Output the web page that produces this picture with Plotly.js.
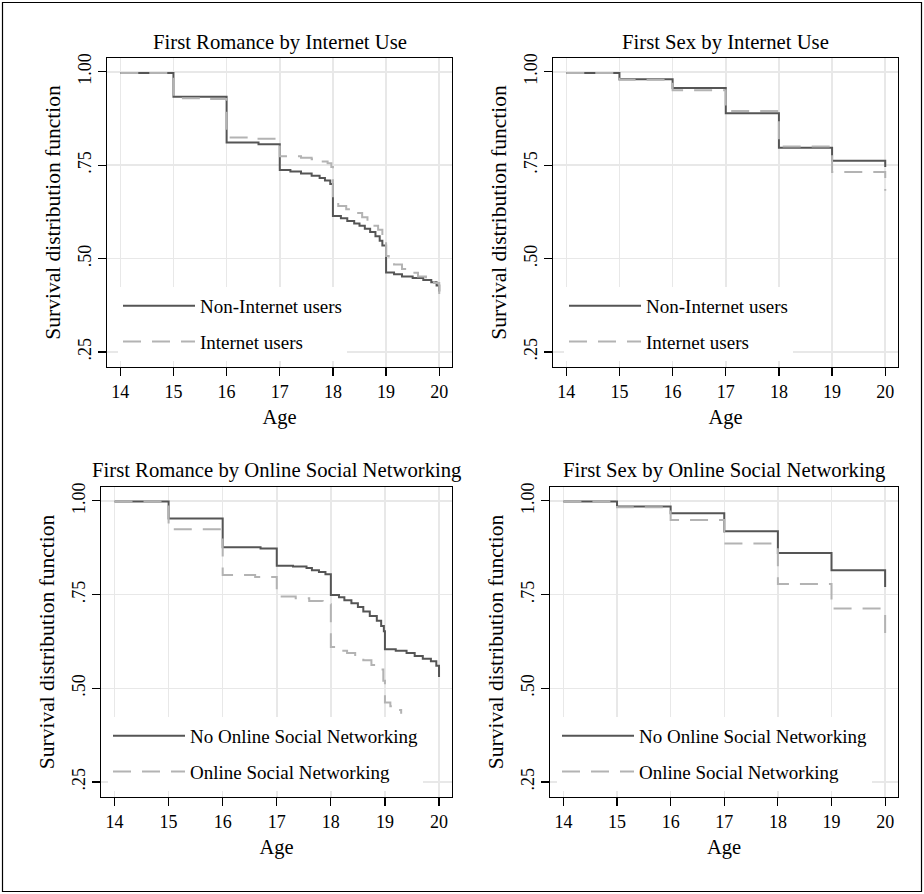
<!DOCTYPE html>
<html>
<head>
<meta charset="utf-8">
<script src="https://cdn.plot.ly/plotly-3.0.1.min.js"></script>
<style>html,body{margin:0;padding:0;background:#fff;}#chart{width:924px;height:894px;}</style>
</head>
<body>
<div id="chart"></div>
<script>
// ---------------- DATA ----------------
const xTicks = [14, 15, 16, 17, 18, 19, 20];
const yTicks = [1.00, 0.75, 0.50, 0.25];
const yTickText = ["1.00", ".75", ".50", ".25"];

const panelTitles = ["First Romance by Internet Use", "First Sex by Internet Use",
                     "First Romance by Online Social Networking", "First Sex by Online Social Networking"];
const internetNames = ["Non-Internet users", "Internet users"];
const osnNames = ["No Online Social Networking", "Online Social Networking"];

// Panel 1: First Romance by Internet Use
const romNetNoX = [14, 15, 16, 16.6, 17, 17.2, 17.4, 17.6, 17.75, 17.85, 17.95, 18, 18.15, 18.27, 18.4, 18.5, 18.6, 18.7, 18.8, 18.88, 18.93, 19, 19.15, 19.3, 19.5, 19.7, 19.85, 19.95, 20];
const romNetNoY = [0.997, 0.933, 0.811, 0.806, 0.737, 0.733, 0.728, 0.722, 0.716, 0.709, 0.700, 0.614, 0.608, 0.601, 0.594, 0.588, 0.580, 0.571, 0.560, 0.548, 0.535, 0.463, 0.458, 0.452, 0.448, 0.443, 0.437, 0.428, 0.412];
const romNetYesX = [14, 15, 15.5, 16, 16.5, 17, 17.4, 17.6, 17.75, 17.9, 17.97, 18, 18.1, 18.25, 18.4, 18.55, 18.65, 18.75, 18.85, 18.93, 19, 19.05, 19.15, 19.3, 19.45, 19.6, 19.75, 19.9, 20];
const romNetYesY = [0.997, 0.929, 0.927, 0.824, 0.821, 0.774, 0.770, 0.766, 0.760, 0.755, 0.745, 0.652, 0.641, 0.632, 0.622, 0.611, 0.600, 0.588, 0.577, 0.563, 0.507, 0.497, 0.484, 0.472, 0.462, 0.452, 0.445, 0.435, 0.400];

// Panel 2: First Sex by Internet Use
const sexNetNoX = [14, 15, 16, 17, 18, 19, 20];
const sexNetNoY = [0.997, 0.980, 0.957, 0.889, 0.797, 0.762, 0.745];
const sexNetYesX = [14, 15, 16, 17, 18, 19, 20];
const sexNetYesY = [0.997, 0.979, 0.951, 0.895, 0.800, 0.732, 0.682];

// Panel 3: First Romance by Online Social Networking
const romOsnNoX = [14, 15, 16, 16.7, 17, 17.3, 17.55, 17.65, 17.78, 17.9, 18, 18.15, 18.25, 18.38, 18.5, 18.6, 18.72, 18.85, 18.93, 18.98, 19, 19.2, 19.4, 19.55, 19.7, 19.85, 19.95, 20];
const romOsnNoY = [0.998, 0.953, 0.876, 0.873, 0.827, 0.825, 0.821, 0.815, 0.810, 0.804, 0.749, 0.743, 0.735, 0.727, 0.717, 0.705, 0.693, 0.680, 0.666, 0.652, 0.604, 0.600, 0.594, 0.586, 0.579, 0.572, 0.560, 0.530];
const romOsnYesX = [14, 15, 16, 16.6, 17, 17.35, 17.6, 17.85, 18, 18.15, 18.3, 18.45, 18.6, 18.75, 18.88, 18.97, 19, 19.1, 19.2, 19.3];
const romOsnYesY = [0.998, 0.924, 0.802, 0.797, 0.745, 0.740, 0.733, 0.724, 0.610, 0.600, 0.594, 0.585, 0.575, 0.562, 0.550, 0.520, 0.462, 0.452, 0.442, 0.432];

// Panel 4: First Sex by Online Social Networking
const sexOsnNoX = [14, 15, 16, 17, 18, 19, 20];
const sexOsnNoY = [0.998, 0.985, 0.967, 0.919, 0.861, 0.815, 0.770];
const sexOsnYesX = [14, 15, 16, 17, 18, 19, 20];
const sexOsnYesY = [0.998, 0.983, 0.949, 0.886, 0.778, 0.713, 0.640];

// ---------------- STYLE / LAYOUT ----------------
const W = 924, H = 894;
const FONT = "Liberation Serif, Times New Roman, serif";
const DARK = "#555555", LIGHT = "#b3b3b3";
const px = v => v / W, py = v => 1 - v / H;

// plot frames in pixels [left, right, top, bottom]
const frames = [
  [107, 452, 58, 367],
  [553, 898, 58, 367],
  [101, 452, 487, 797],
  [550, 898, 487, 797]
];
const legendPos = [[118, 287], [564, 287], [108, 717], [557, 717]];
const legendEntryW = [180, 180, 250, 250];

const series = [
  [[romNetNoX, romNetNoY], [romNetYesX, romNetYesY], internetNames],
  [[sexNetNoX, sexNetNoY], [sexNetYesX, sexNetYesY], internetNames],
  [[romOsnNoX, romOsnNoY], [romOsnYesX, romOsnYesY], osnNames],
  [[sexOsnNoX, sexOsnNoY], [sexOsnYesX, sexOsnYesY], osnNames]
];

const traces = [];
const layout = {
  width: W, height: H,
  margin: {l: 0, r: 0, t: 0, b: 0},
  paper_bgcolor: "#ffffff", plot_bgcolor: "#ffffff",
  font: {family: FONT, color: "#000000", size: 18},
  annotations: [], shapes: [
    {type: "rect", xref: "paper", yref: "paper", x0: px(2.5), x1: px(921.5), y0: py(891.5), y1: py(2.5),
     line: {color: "#000000", width: 1.2}, fillcolor: "rgba(0,0,0,0)", layer: "below"}
  ]
};

series.forEach((s, i) => {
  const k = i + 1;
  const sfx = k === 1 ? "" : String(k);
  const xa = "x" + sfx, ya = "y" + sfx;
  const lg = "legend" + sfx;
  const [dark, light, names] = s;
  traces.push({
    type: "scatter", mode: "lines", x: dark[0], y: dark[1], name: names[0],
    xaxis: xa, yaxis: ya, legend: lg, legendgroup: "a" + k,
    line: {shape: "hv", color: DARK, width: 2}, hoverinfo: "skip"
  });
  traces.push({
    type: "scatter", mode: "lines", x: light[0], y: light[1], name: names[1],
    xaxis: xa, yaxis: ya, legend: lg, legendgroup: "b" + k,
    line: {shape: "hv", color: LIGHT, width: 2, dash: "18px,11px"}, hoverinfo: "skip"
  });
  const f = frames[i];
  const axCommon = {
    showline: true, mirror: true, linecolor: "#000000", linewidth: 1.3,
    ticks: "outside", ticklen: 8, tickwidth: 1.2, tickcolor: "#000000",
    showgrid: true, gridcolor: "#e8e8e8", gridwidth: 1.5, zeroline: false,
    tickfont: {family: FONT, size: 18, color: "#000000"}, fixedrange: true
  };
  layout["xaxis" + sfx] = Object.assign({}, axCommon, {
    domain: [px(f[0]), px(f[1])], anchor: ya,
    range: [13.75, 20.24], tickvals: xTicks, ticktext: xTicks.map(String),
    title: {text: "Age", font: {family: FONT, size: 20.5}, standoff: 8}
  });
  layout["yaxis" + sfx] = Object.assign({}, axCommon, {
    domain: [py(f[3]), py(f[2])], anchor: xa,
    range: [0.21, 1.037], tickvals: yTicks, ticktext: yTickText, tickangle: -90,
    title: {text: "Survival distribution function", font: {family: FONT, size: 21.5}, standoff: 8}
  });
  layout.annotations.push({
    xref: "paper", yref: "paper", x: px((f[0] + f[1]) / 2), y: py(f[2] - 16),
    xanchor: "center", yanchor: "middle", showarrow: false, text: panelTitles[i],
    font: {family: FONT, size: 20.7, color: "#000000"}
  });
  const lp = legendPos[i];
  layout[lg] = {
    x: px(lp[0]), y: py(lp[1]), xanchor: "left", yanchor: "top",
    bgcolor: "#ffffff", borderwidth: 0, font: {family: FONT, size: 19, color: "#000000"},
    itemwidth: 72, entrywidth: legendEntryW[i], entrywidthmode: "pixels",
    tracegroupgap: 8, traceorder: "grouped", itemclick: false, itemdoubleclick: false
  };
});

Plotly.newPlot("chart", traces, layout, {staticPlot: true, displayModeBar: false});
</script>
</body>
</html>
